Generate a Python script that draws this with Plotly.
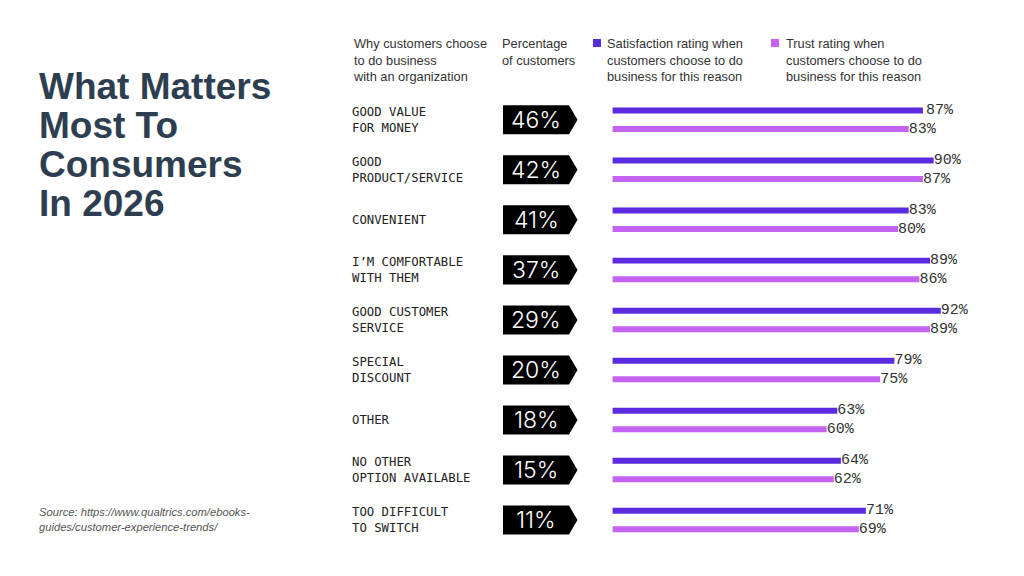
import plotly.graph_objects as go

# ---- data ----
categories = [
    "GOOD VALUE<br>FOR MONEY",
    "GOOD<br>PRODUCT/SERVICE",
    "CONVENIENT",
    "I\u2019M COMFORTABLE<br>WITH THEM",
    "GOOD CUSTOMER<br>SERVICE",
    "SPECIAL<br>DISCOUNT",
    "OTHER",
    "NO OTHER<br>OPTION AVAILABLE",
    "TOO DIFFICULT<br>TO SWITCH",
]
pct_customers = [46, 42, 41, 37, 29, 20, 18, 15, 11]
satisfaction = [87, 90, 83, 89, 92, 79, 63, 64, 71]
trust = [83, 87, 80, 86, 89, 75, 60, 62, 69]

title_lines = ["What Matters", "Most To", "Consumers", "In 2026"]
source_text = "Source: https://www.qualtrics.com/ebooks-<br>guides/customer-experience-trends/"
header_reason = "Why customers choose<br>to do business<br>with an organization"
header_pct = "Percentage<br>of customers"
sat_name = "Satisfaction rating when<br>customers choose to do<br>business for this reason"
trust_name = "Trust rating when<br>customers choose to do<br>business for this reason"

SAT_COLOR = "#5B2BE0"
TRUST_COLOR = "#C462F2"
TEXT_COLOR = "#333333"
W, H = 1024, 576

def px(x):
    return x / W

def py(y):
    return 1 - y / H

rows = list(range(len(categories)))

fig = go.Figure()
fig.add_trace(go.Bar(
    y=rows, x=satisfaction, orientation="h", name=sat_name,
    marker=dict(color=SAT_COLOR, line=dict(width=0)),
    texttemplate="%{x}%", textposition="outside", constraintext="none",
    cliponaxis=False,
    textfont=dict(family="Liberation Mono", size=15, color=TEXT_COLOR),
    showlegend=False,
))
fig.add_trace(go.Bar(
    y=rows, x=trust, orientation="h", name=trust_name,
    marker=dict(color=TRUST_COLOR, line=dict(width=0)),
    texttemplate="%{x}%", textposition="outside", constraintext="none",
    cliponaxis=False,
    textfont=dict(family="Liberation Mono", size=15, color=TEXT_COLOR),
    showlegend=False,
))

annotations = []
shapes = []

# title
for i, line in enumerate(title_lines):
    annotations.append(dict(
        x=px(37), y=py(87 + i * 38.7), xref="paper", yref="paper",
        xanchor="left", yanchor="middle", showarrow=False, text=line,
        font=dict(family="Liberation Sans", size=37, color="#2D3E50", weight=700),
    ))

# source
annotations.append(dict(
    x=px(37), y=py(519.5), xref="paper", yref="paper", xanchor="left",
    yanchor="middle", showarrow=False, text=source_text, align="left",
    font=dict(family="Liberation Sans", size=11.2, color="#555555", style="italic"),
))

# headers
hdr_font = dict(family="Liberation Sans", size=12.8, color=TEXT_COLOR)
for xpos, txt in [(351, header_reason), (500, header_pct), (605, sat_name), (784, trust_name)]:
    annotations.append(dict(
        x=px(xpos), y=py(34), xref="paper", yref="paper", xanchor="left",
        yanchor="top", showarrow=False, text=txt, align="left", font=hdr_font,
    ))
for x0, col in [(593, SAT_COLOR), (771, TRUST_COLOR)]:
    shapes.append(dict(type="rect", xref="paper", yref="paper",
                       x0=px(x0), x1=px(x0 + 8), y0=py(47), y1=py(39),
                       fillcolor=col, line=dict(width=0)))

# category labels and percentage boxes
for i, (cat, pc) in enumerate(zip(categories, pct_customers)):
    annotations.append(dict(
        x=px(350), y=i, xref="paper", yref="y", xanchor="left", yanchor="middle",
        showarrow=False, text=cat, align="left",
        font=dict(family="DejaVu Sans Mono", size=12.3, color="#222222"),
    ))
    h = 0.29
    x0, x1, xt = px(503), px(569), px(577.5)
    shapes.append(dict(
        type="path", xref="paper", yref="y",
        path=f"M {x0},{i - h} L {x1},{i - h} L {xt},{i} L {x1},{i + h} L {x0},{i + h} Z",
        fillcolor="#000000", line=dict(width=0), layer="above",
    ))
    annotations.append(dict(
        x=px(536), y=i, xref="paper", yref="y", xanchor="center", yanchor="middle",
        showarrow=False, text=f"{pc}%",
        font=dict(family="Inter", size=23, color="#FFFFFF", weight=300),
    ))

fig.update_layout(
    width=W, height=H, margin=dict(l=0, r=0, t=0, b=0),
    paper_bgcolor="white", plot_bgcolor="white",
    barmode="group", bargap=0.26, bargroupgap=0.676,
    xaxis=dict(domain=[px(607.7), px(1000)], range=[-1.37, 108.6],
               visible=False, showgrid=False, zeroline=False, fixedrange=True),
    yaxis=dict(domain=[py(545), py(94.8)], range=[8.5, -0.5],
               visible=False, showgrid=False, zeroline=False, fixedrange=True),
    annotations=annotations, shapes=shapes, showlegend=False,
)

fig.write_html(
    "out.html",
    config={"displayModeBar": False},
    post_script="document.body.style.margin='0px';document.body.style.overflow='hidden';",
)
